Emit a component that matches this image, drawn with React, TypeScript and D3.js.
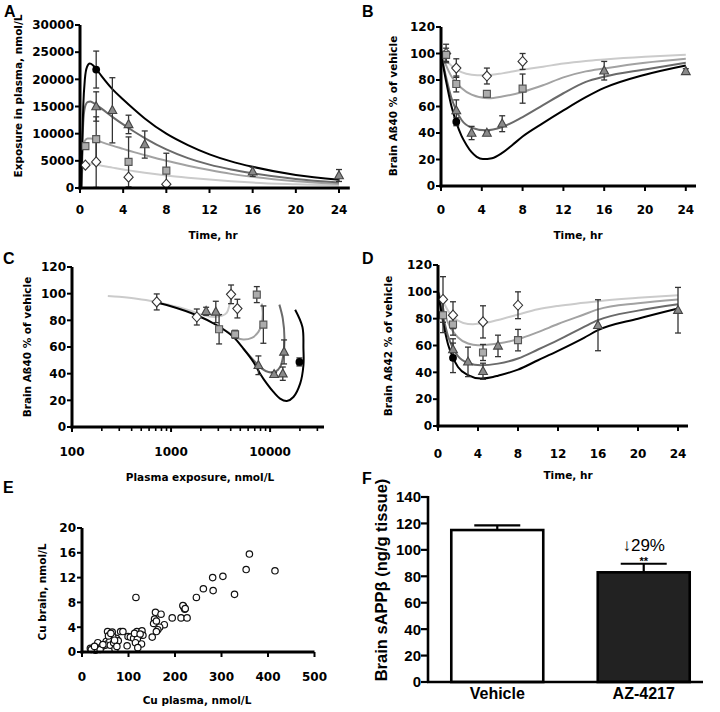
import React from 'react';
import * as d3 from 'd3';

type Pt = [number, number];
type EPt = [number, number, number];

// ---------- shared ticks ----------
const timeTicks = [0, 4, 8, 12, 16, 20, 24];
const pctTicks = [0, 20, 40, 60, 80, 100, 120];

// ---------- Panel A: plasma exposure vs time ----------
const aYTicks = [0, 5000, 10000, 15000, 20000, 25000, 30000];
const aCircles: EPt[] = [[1.5, 21800, 3400]];
const aTriangles: EPt[] = [[1.5, 15000, 2700], [3, 14300, 6000], [4.5, 11700, 1700], [6, 8000, 2500], [16, 3000, 850], [24, 2300, 1100]];
const aSquares: EPt[] = [[0.5, 7700, 0], [1.5, 9000, 4100], [4.5, 4800, 4600], [8, 3200, 3200]];
const aDiamonds: EPt[] = [[0.5, 4200, 0], [1.5, 4800, 4700], [4.5, 2000, 0], [8, 700, 0]];
const aCurveBlack: Pt[] = [[0.12, 0], [0.2, 8000], [0.3, 15000], [0.45, 20000], [0.65, 22300], [0.9, 22900], [1.2, 22600], [1.5, 21900], [2, 20600], [3, 18200], [4, 16300], [5, 14500], [6, 12800], [8, 10000], [10, 7900], [12, 6200], [14, 4900], [16, 3900], [20, 2400], [24, 1500]];
const aCurveDark: Pt[] = [[0.12, 0], [0.2, 7000], [0.3, 12000], [0.45, 14800], [0.7, 15800], [0.95, 15900], [1.2, 15700], [1.5, 15300], [2, 14600], [3, 13100], [4, 11700], [5, 10400], [6, 9200], [8, 7100], [10, 5500], [12, 4300], [14, 3400], [16, 2700], [20, 1650], [24, 1000]];
const aCurveMid: Pt[] = [[0.12, 0], [0.2, 4500], [0.3, 7500], [0.45, 8700], [0.7, 9100], [1, 9100], [1.5, 8800], [2, 8450], [3, 7800], [4, 7200], [5, 6600], [6, 6050], [8, 5000], [10, 4100], [12, 3300], [14, 2600], [16, 2050], [20, 1250], [24, 750]];
const aCurveLight: Pt[] = [[0.12, 0], [0.2, 2800], [0.3, 4000], [0.45, 4450], [0.7, 4500], [1, 4450], [1.5, 4300], [2, 4100], [3, 3750], [4, 3400], [5, 3100], [6, 2800], [8, 2300], [10, 1900], [12, 1550], [14, 1250], [16, 1000], [20, 700], [24, 480]];

// ---------- Panel B: brain Aß40 vs time ----------
const bCircles: EPt[] = [[1.5, 48.5, 3]];
const bTriangles: EPt[] = [[1.5, 57, 8], [3, 40, 5], [4.5, 40, 1.5], [6, 47, 6], [16, 87, 7], [24, 86.5, 2]];
const bSquares: EPt[] = [[0.5, 99, 5], [1.5, 77, 6], [4.5, 69.5, 2], [8, 73.5, 11]];
const bDiamonds: EPt[] = [[0.5, 100, 7], [1.5, 89, 7], [4.5, 83, 6], [8, 94, 6]];
const bCurveBlack: Pt[] = [[0, 100], [0.5, 79], [1, 61], [1.5, 48], [2, 38], [2.5, 31], [3, 25.5], [3.5, 22], [4.1, 20.3], [5, 21], [6, 25], [7, 31], [8, 37.3], [10, 47.4], [12, 57], [14.2, 67], [16, 74], [20, 84], [24, 91]];
const bCurveDark: Pt[] = [[0, 100], [0.5, 82], [1, 67], [1.5, 57], [2, 50], [3, 44], [4.4, 42], [6, 44.5], [8, 52], [10, 61], [12, 70], [14.2, 78.6], [16, 82.5], [20, 88], [24, 93]];
const bCurveMid: Pt[] = [[0, 100], [0.5, 91], [1, 83], [1.5, 78], [2, 74], [3, 69], [4.7, 66.2], [6, 67.5], [8, 71], [10, 76], [12, 82], [14.2, 86.5], [16, 88.7], [20, 93], [24, 96]];
const bCurveLight: Pt[] = [[0, 100], [0.5, 95], [1, 91], [1.5, 88], [2, 86], [3, 84], [4.1, 83.5], [6, 85], [8, 87.7], [10, 90], [12, 92.5], [14.2, 94.4], [16, 95.5], [20, 97.5], [24, 99]];

// ---------- Panel C: brain Aß40 vs plasma exposure ----------
const cXTicks = [100, 1000, 10000];
const cMinorTicks = [200, 300, 400, 500, 600, 700, 800, 900, 2000, 3000, 4000, 5000, 6000, 7000, 8000, 9000, 20000, 30000];
const cCircles: EPt[] = [[19770, 48.8, 3]];
const cTriangles: EPt[] = [[2260, 86.8, 3], [2830, 86.3, 8], [7620, 46.3, 7], [10970, 39.5, 1.5], [13430, 40, 5], [13830, 56.3, 9]];
const cSquares: EPt[] = [[3055, 73.3, 11], [4430, 69.5, 3], [7340, 99.3, 6], [8550, 76.8, 14]];
const cDiamonds: EPt[] = [[717, 93.8, 6], [1820, 82.5, 6], [4035, 99.5, 7], [4675, 88.8, 7]];
const cCurveLight: Pt[] = [[4100, 98.3], [3880, 91.3], [3660, 85.8], [3250, 83.3], [2670, 82.5], [2120, 83.8], [1600, 87], [1200, 89.8], [900, 92], [660, 94.3], [450, 96.2], [300, 97.6], [230, 98.3]];
const cCurveMid: Pt[] = [[8240, 92.6], [8430, 85], [8240, 77.6], [7620, 71.3], [6530, 66.8], [5370, 65.6], [4610, 66.8], [3900, 70.5], [2900, 76.3]];
const cCurveDark: Pt[] = [[12400, 91.8], [13430, 81.3], [13960, 66.3], [13600, 53.8], [12620, 45], [11220, 41.3], [9620, 41.3], [8240, 43.8], [7060, 48.8], [5370, 58.8]];
const cCurveBlack: Pt[] = [[17900, 88], [21200, 75], [21700, 58.8], [21700, 46.3], [20100, 32.5], [17200, 22.5], [14760, 19.5], [12600, 21.3], [10800, 26.3], [9270, 32.5], [7930, 40], [6780, 48.8], [5370, 58.8], [4260, 67.5], [2900, 76.3], [1820, 83.8], [976, 90.8], [662, 93.8]];

// ---------- Panel D: brain Aß42 vs time ----------
const dCircles: EPt[] = [[1.5, 50.8, 11]];
const dTriangles: EPt[] = [[1.5, 57, 8], [3, 47.8, 11], [4.5, 40.8, 6], [6, 59.7, 8], [16, 75.1, 19], [24, 86.3, 17]];
const dSquares: EPt[] = [[0.5, 82.6, 13], [1.5, 75.7, 8], [4.5, 54.8, 6], [8, 64, 8]];
const dDiamonds: EPt[] = [[0.5, 94.3, 17], [1.5, 82.6, 10], [4.5, 77.6, 12], [8, 90, 10]];
const dCurveBlack: Pt[] = [[0, 100], [0.5, 78], [1, 61], [1.5, 51], [2, 44], [3, 38], [4.3, 35.4], [5.5, 36.5], [6, 37.5], [8, 42], [10, 49], [12, 56], [14.6, 65.7], [16, 71.4], [20, 80], [24, 87.6]];
const dCurveDark: Pt[] = [[0, 100], [0.5, 82], [1, 67], [1.5, 58], [2, 52], [3, 47], [4.3, 45.3], [6, 46.5], [8, 50.3], [10, 57], [12, 64], [14.6, 73.9], [16, 78.9], [20, 86], [24, 90.8]];
const dCurveMid: Pt[] = [[0, 100], [0.5, 88], [1, 77], [1.5, 70.5], [2, 66], [3, 61.5], [4, 60.2], [6, 61.5], [8, 64.7], [10, 70], [12, 76], [14.6, 83.1], [16, 86.9], [20, 91.5], [24, 94.3]];
const dCurveLight: Pt[] = [[0, 100], [0.5, 93], [1, 86], [1.5, 81], [2, 78.5], [3, 76], [3.5, 75.9], [4.5, 76.5], [6, 79], [8, 83.1], [10, 87], [12, 89.5], [14.6, 91.8], [16, 93], [20, 95.5], [24, 97.5]];

// ---------- Panel E: Cu brain vs Cu plasma ----------
const eXTicks = [0, 100, 200, 300, 400, 500];
const eYTicks = [0, 4, 8, 12, 16, 20];
const ePlasma = [360, 353, 415, 303, 281, 282, 261, 328, 246, 116, 218, 219, 221, 217, 222, 194, 213, 226, 158, 170, 156, 154, 160, 177, 167, 163, 160, 151, 55, 65, 83, 88, 118, 129, 131, 122, 99, 104, 111, 74, 66, 58, 78, 97, 119, 115, 128, 120, 18, 25, 31, 34, 36, 43, 50, 52, 54, 60, 61, 68, 71, 75, 29, 39, 57, 62, 113, 125, 20, 27, 45, 70];
const eBrain = [15.8, 13.3, 13.1, 12.2, 12.0, 9.9, 10.2, 9.3, 8.8, 8.8, 7.4, 7.2, 6.9, 7.5, 7.0, 5.5, 5.5, 5.5, 6.4, 6.1, 5.3, 4.6, 5.0, 4.4, 4.0, 3.6, 3.3, 2.4, 3.3, 3.2, 3.3, 3.3, 3.3, 3.4, 2.7, 2.6, 2.5, 2.4, 2.2, 2.2, 2.5, 2.0, 1.8, 1.0, 2.1, 1.5, 1.3, 0.7, 0.6, 0.7, 1.0, 1.5, 0.6, 0.9, 1.1, 1.7, 1.3, 1.8, 1.1, 1.5, 0.5, 0.9, 0.3, 0.4, 2.6, 3.0, 3.0, 2.9, 0.4, 0.9, 1.2, 1.9];

// ---------- Panel F: sAPPβ bars ----------
const fYTicks = [0, 20, 40, 60, 80, 100, 120, 140];
const fCategories = ['Vehicle', 'AZ-4217'];
const fValues = [115, 83];
const fErrors = [3.5, 6.5];

// ---------- styling ----------
const DV = '"DejaVu Sans", sans-serif';
const AR = '"Liberation Sans", Arial, sans-serif';
const tickStyle: React.CSSProperties = { fontFamily: DV, fontWeight: 700, fontSize: 12, fill: '#000' };
const titleStyle: React.CSSProperties = { fontFamily: DV, fontWeight: 700, fontSize: 10.5, fill: '#000' };
const letterStyle: React.CSSProperties = { fontFamily: AR, fontWeight: 700, fontSize: 16, fill: '#000' };
const COL = { black: '#000', dark: '#6a6a6a', mid: '#a2a2a2', light: '#cbcbcb' };

type Kind = 'diamond' | 'square' | 'triangle' | 'circle';
const markerPath: Record<Kind, string> = {
  diamond: 'M0,-5L4.6,0L0,5L-4.6,0Z',
  square: 'M-3.5,-3.5h7v7h-7Z',
  triangle: 'M0,-4.8L4.4,3.2L-4.4,3.2Z',
  circle: '',
};
const markerFill: Record<Kind, string> = { diamond: '#fff', square: '#acacac', triangle: '#8a8a8a', circle: '#000' };
const markerStroke: Record<Kind, string> = { diamond: '#333', square: '#555', triangle: '#444', circle: '#000' };

function ErrBars({ pts, x, y }: { pts: EPt[]; x: any; y: any }) {
  const ymin = y.domain()[0];
  return (
    <g>
      {pts.filter((p) => p[2] > 0).map((p, i) => {
        const px = x(p[0]);
        const lo = y(Math.max(ymin, p[1] - p[2]));
        const hi = y(p[1] + p[2]);
        return (
          <g key={i} stroke="#333" strokeWidth={1.3}>
            <line x1={px} x2={px} y1={lo} y2={hi} />
            <line x1={px - 3} x2={px + 3} y1={hi} y2={hi} />
            {p[1] - p[2] > ymin && <line x1={px - 3} x2={px + 3} y1={lo} y2={lo} />}
          </g>
        );
      })}
    </g>
  );
}

function Markers({ pts, x, y, kind }: { pts: EPt[]; x: any; y: any; kind: Kind }) {
  return (
    <g>
      {pts.map((p, i) =>
        kind === 'circle' ? (
          <circle key={i} cx={x(p[0])} cy={y(p[1])} r={3.9} fill={markerFill[kind]} />
        ) : (
          <path key={i} d={markerPath[kind]} transform={`translate(${x(p[0])},${y(p[1])})`} fill={markerFill[kind]} stroke={markerStroke[kind]} strokeWidth={1.1} />
        )
      )}
    </g>
  );
}

function Curve({ pts, x, y, color, curve }: { pts: Pt[]; x: any; y: any; color: string; curve?: any }) {
  const gen = d3.line<Pt>().x((d) => x(d[0])).y((d) => y(d[1])).curve(curve || d3.curveMonotoneX);
  return <path d={gen(pts) || ''} fill="none" stroke={color} strokeWidth={2} />;
}

function Axes({ x, y, xTicks, yTicks, xFmt, yFmt, xLabelY, minor }: any) {
  const [x0, x1] = x.range();
  const [y0, y1] = y.range();
  return (
    <g>
      {yTicks.map((t: number) => (
        <g key={'y' + t}>
          <line x1={x0 - 5} x2={x0} y1={y(t)} y2={y(t)} stroke="#000" strokeWidth={2} />
          <text x={x0 - 6} y={y(t)} dy="0.36em" textAnchor="end" style={tickStyle}>{yFmt(t)}</text>
        </g>
      ))}
      {(minor || []).map((t: number) => (
        <line key={'m' + t} x1={x(t)} x2={x(t)} y1={y0} y2={y0 + 4} stroke="#000" strokeWidth={1.6} />
      ))}
      {xTicks.map((t: number) => (
        <g key={'x' + t}>
          <line x1={x(t)} x2={x(t)} y1={y0} y2={y0 + 5} stroke="#000" strokeWidth={2} />
          <text x={x(t)} y={xLabelY} textAnchor="middle" style={tickStyle}>{xFmt(t)}</text>
        </g>
      ))}
      <line x1={x0} x2={x0} y1={y0 + 1.5} y2={y1} stroke="#000" strokeWidth={3} />
      <line x1={x0 - 1.5} x2={x1} y1={y0} y2={y0} stroke="#000" strokeWidth={3} />
    </g>
  );
}

function YTitle({ x, y, text, style }: { x: number; y: number; text: string; style?: React.CSSProperties }) {
  return (
    <text transform={`translate(${x},${y}) rotate(-90)`} textAnchor="middle" dy="0.35em" style={style || titleStyle}>{text}</text>
  );
}

function Series({ x, y, curves, circles, triangles, squares, diamonds, curveType }: any) {
  return (
    <g>
      <Curve pts={curves[3]} x={x} y={y} color={COL.light} curve={curveType} />
      <Curve pts={curves[2]} x={x} y={y} color={COL.mid} curve={curveType} />
      <Curve pts={curves[1]} x={x} y={y} color={COL.dark} curve={curveType} />
      <Curve pts={curves[0]} x={x} y={y} color={COL.black} curve={curveType} />
      <ErrBars pts={diamonds} x={x} y={y} />
      <ErrBars pts={squares} x={x} y={y} />
      <ErrBars pts={triangles} x={x} y={y} />
      <ErrBars pts={circles} x={x} y={y} />
      <Markers pts={diamonds} x={x} y={y} kind="diamond" />
      <Markers pts={squares} x={x} y={y} kind="square" />
      <Markers pts={triangles} x={x} y={y} kind="triangle" />
      <Markers pts={circles} x={x} y={y} kind="circle" />
    </g>
  );
}

export default function App() {
  const ax = d3.scaleLinear().domain([0, 25]).range([80, 349.8]);
  const ay = d3.scaleLinear().domain([0, 30000]).range([188, 25]);
  const bx = d3.scaleLinear().domain([0, 25]).range([441, 696]);
  const by = d3.scaleLinear().domain([0, 120]).range([186, 27]);
  const cx = d3.scaleLog().domain([100, 35000]).range([72, 324]);
  const cy = d3.scaleLinear().domain([0, 120]).range([427, 267]);
  const dx = d3.scaleLinear().domain([0, 25]).range([438, 688]);
  const dy = d3.scaleLinear().domain([0, 120]).range([426, 265]);
  const ex = d3.scaleLinear().domain([0, 500]).range([82, 314.5]);
  const ey = d3.scaleLinear().domain([0, 20]).range([652, 528]);
  const fx = d3.scaleBand().domain(fCategories).range([428, 713]).paddingInner(0.372).paddingOuter(0.159);
  const fy = d3.scaleLinear().domain([0, 140]).range([682, 497]);

  const num = (t: number) => String(t);
  const catmull = d3.curveCatmullRom.alpha(0.5);
  const fTickStyle: React.CSSProperties = { fontFamily: AR, fontWeight: 700, fontSize: 15, fill: '#000' };
  const azCenter = (fx('AZ-4217') as number) + fx.bandwidth() / 2;

  return (
    <svg width={720} height={712} style={{ position: 'absolute', left: 0, top: 0, background: '#fff' }}>
      <rect x={0} y={0} width={720} height={712} fill="#fff" />

      {/* Panel A */}
      <text x={4} y={17} style={letterStyle}>A</text>
      <Series x={ax} y={ay} curves={[aCurveBlack, aCurveDark, aCurveMid, aCurveLight]} circles={aCircles} triangles={aTriangles} squares={aSquares} diamonds={aDiamonds} />
      <Axes x={ax} y={ay} xTicks={timeTicks} yTicks={aYTicks} xFmt={num} yFmt={num} xLabelY={214} />
      <YTitle x={18} y={96} text="Exposure in plasma, nmol/L" />
      <text x={213} y={239} textAnchor="middle" style={titleStyle}>Time, hr</text>

      {/* Panel B */}
      <text x={362} y={17} style={letterStyle}>B</text>
      <Series x={bx} y={by} curves={[bCurveBlack, bCurveDark, bCurveMid, bCurveLight]} circles={bCircles} triangles={bTriangles} squares={bSquares} diamonds={bDiamonds} />
      <Axes x={bx} y={by} xTicks={timeTicks} yTicks={pctTicks} xFmt={num} yFmt={num} xLabelY={214} />
      <YTitle x={393} y={106} text="Brain Aß40 % of vehicle" />
      <text x={578} y={239} textAnchor="middle" style={titleStyle}>Time, hr</text>

      {/* Panel C */}
      <text x={3} y={264} style={letterStyle}>C</text>
      <Series x={cx} y={cy} curves={[cCurveBlack, cCurveDark, cCurveMid, cCurveLight]} circles={cCircles} triangles={cTriangles} squares={cSquares} diamonds={cDiamonds} curveType={catmull} />
      <Axes x={cx} y={cy} xTicks={cXTicks} yTicks={pctTicks} xFmt={num} yFmt={num} xLabelY={456} minor={cMinorTicks} />
      <YTitle x={27} y={347} text="Brain Aß40 % of vehicle" />
      <text x={200} y={481} textAnchor="middle" style={titleStyle}>Plasma exposure, nmol/L</text>

      {/* Panel D */}
      <text x={362} y={264} style={letterStyle}>D</text>
      <Series x={dx} y={dy} curves={[dCurveBlack, dCurveDark, dCurveMid, dCurveLight]} circles={dCircles} triangles={dTriangles} squares={dSquares} diamonds={dDiamonds} />
      <Axes x={dx} y={dy} xTicks={timeTicks} yTicks={pctTicks} xFmt={num} yFmt={num} xLabelY={458} />
      <YTitle x={388} y={346} text="Brain Aß42 % of vehicle" />
      <text x={568} y={479} textAnchor="middle" style={titleStyle}>Time, hr</text>

      {/* Panel E */}
      <text x={3} y={493} style={letterStyle}>E</text>
      <g>
        {ePlasma.map((p, i) => (
          <circle key={i} cx={ex(p)} cy={ey(eBrain[i])} r={3.2} fill="#fff" stroke="#111" strokeWidth={1.2} />
        ))}
      </g>
      <Axes x={ex} y={ey} xTicks={eXTicks} yTicks={eYTicks} xFmt={num} yFmt={num} xLabelY={681} />
      <YTitle x={42} y={592} text="Cu brain, nmol/L" />
      <text x={197} y={704} textAnchor="middle" style={titleStyle}>Cu plasma, nmol/L</text>

      {/* Panel F */}
      <text x={362} y={484} style={letterStyle}>F</text>
      {fCategories.map((c, i) => {
        const x0 = fx(c) as number;
        const w = fx.bandwidth();
        const cxp = x0 + w / 2;
        const top = fy(fValues[i]);
        const eTop = fy(fValues[i] + fErrors[i]);
        return (
          <g key={c}>
            <line x1={cxp} x2={cxp} y1={top} y2={eTop} stroke="#000" strokeWidth={2.2} />
            <line x1={cxp - w / 4} x2={cxp + w / 4} y1={eTop} y2={eTop} stroke="#000" strokeWidth={2.2} />
            <rect x={x0} y={top} width={w} height={fy(0) - top} fill={i === 0 ? '#fff' : '#222'} stroke="#000" strokeWidth={2.6} />
            <text x={cxp} y={699} textAnchor="middle" style={{ fontFamily: AR, fontWeight: 700, fontSize: 16, fill: '#000' }}>{c}</text>
          </g>
        );
      })}
      {fYTicks.map((t) => (
        <g key={t}>
          <line x1={421} x2={428} y1={fy(t)} y2={fy(t)} stroke="#000" strokeWidth={2.2} />
          <text x={421} y={fy(t)} dy="0.36em" textAnchor="end" style={fTickStyle}>{t}</text>
        </g>
      ))}
      <line x1={428} x2={428} y1={fy(0)} y2={fy(140) - 1} stroke="#000" strokeWidth={2.6} />
      <line x1={427} x2={703} y1={fy(0)} y2={fy(0)} stroke="#000" strokeWidth={2.6} />
      <text x={azCenter} y={551} textAnchor="middle" style={{ fontFamily: AR, fontSize: 17, fill: '#000' }}>↓29%</text>
      <text x={azCenter} y={565} textAnchor="middle" style={{ fontFamily: AR, fontWeight: 700, fontSize: 11, fill: '#000' }}>**</text>
      <YTitle x={381} y={580} text="Brain sAPPβ (ng/g tissue)" style={{ fontFamily: AR, fontWeight: 700, fontSize: 16.5, fill: '#000' }} />
    </svg>
  );
}
